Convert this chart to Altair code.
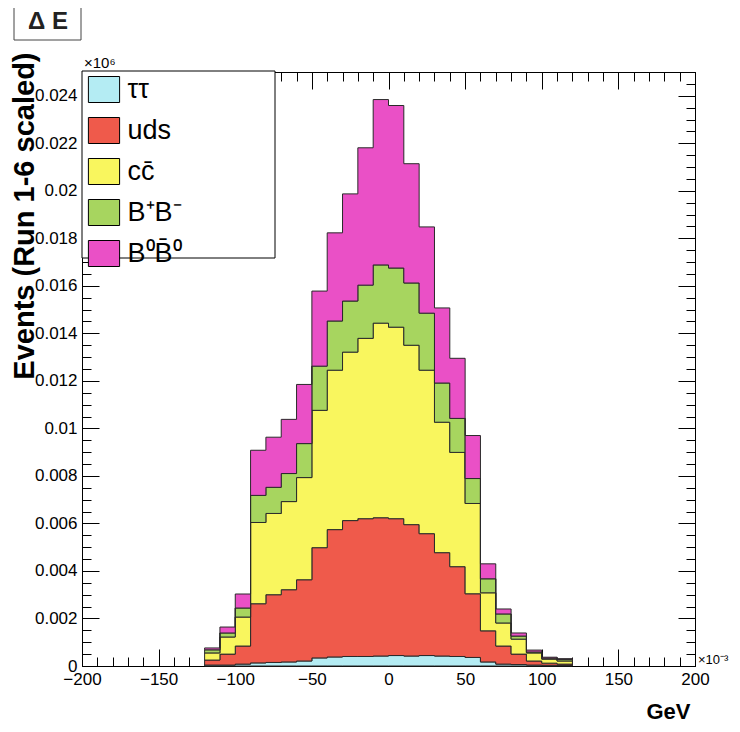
import altair as alt
import pandas as pd

FONT = "Liberation Sans"

# ---- data (bin lower edges in 1e-3 GeV, contents per component) ----
bin_lows = [-120, -110, -100, -90, -80, -70, -60, -50, -40, -30, -20, -10,
            0, 10, 20, 30, 40, 50, 60, 70, 80, 90, 100, 110]
bin_width = 10

tautau = [0.00004, 0.00004, 0.00008, 0.00013, 0.00015, 0.00017, 0.00021, 0.00034,
          0.00038, 0.00040, 0.00040, 0.00042, 0.00044, 0.00042, 0.00044, 0.00042,
          0.00040, 0.00036, 0.00017, 0.00008, 0.00006, 0.00004, 0.00003, 0.00002]
uds = [0.00021, 0.00046, 0.00076, 0.00249, 0.00285, 0.00304, 0.00342, 0.00464,
       0.00536, 0.00572, 0.00580, 0.00582, 0.00576, 0.00553, 0.00513, 0.00435,
       0.00378, 0.00268, 0.00131, 0.00076, 0.00044, 0.00017, 0.00009, 0.00006]
ccbar = [0.00030, 0.00072, 0.00122, 0.00342, 0.00342, 0.00371, 0.00430, 0.00578,
         0.00671, 0.00709, 0.00759, 0.00819, 0.00806, 0.00755, 0.00688, 0.00549,
         0.00481, 0.00380, 0.00160, 0.00097, 0.00063, 0.00034, 0.00017, 0.00013]
bpbm = [0.00013, 0.00017, 0.00038, 0.00114, 0.00110, 0.00118, 0.00143, 0.00186,
        0.00207, 0.00215, 0.00224, 0.00245, 0.00249, 0.00262, 0.00240, 0.00165,
        0.00143, 0.00105, 0.00059, 0.00038, 0.00013, 0.00004, 0.00004, 0.00006]
b0b0 = [0.00008, 0.00025, 0.00059, 0.00190, 0.00211, 0.00228, 0.00249, 0.00316,
        0.00371, 0.00451, 0.00578, 0.00696, 0.00684, 0.00502, 0.00363, 0.00316,
        0.00253, 0.00181, 0.00063, 0.00021, 0.00013, 0.00008, 0.00004, 0.00004]

components = ["ττ", "uds", "cc\u0304", "B\u207aB\u207b", "B\u2070B\u0304\u2070"]
series = [tautau, uds, ccbar, bpbm, b0b0]
colors = ["#b4ecf3", "#ef5a4b", "#f9f65e", "#a7d55f", "#ea50c6"]

x_major = [-200, -150, -100, -50, 0, 50, 100, 150, 200]
x_minor = list(range(-200, 201, 10))
y_major = [0, 0.002, 0.004, 0.006, 0.008, 0.010, 0.012, 0.014, 0.016, 0.018,
           0.020, 0.022, 0.024]
y_minor = [round(0.0005 * i, 4) for i in range(51)]

W, H = 613, 594
X_DOMAIN = [-200, 200]
Y_DOMAIN = [0, 0.025]

# ---- build stacked step table ----
rows = []
base = [0.0] * len(bin_lows)
edges = bin_lows + [bin_lows[-1] + bin_width]
for k, (name, vals) in enumerate(zip(components, series)):
    tops = [b + v for b, v in zip(base, vals)]
    for i, e in enumerate(edges):
        j = min(i, len(vals) - 1)
        rows.append({"comp": name, "order": k, "x": e,
                     "ybot": base[j], "ytop": tops[j]})
    base = tops
df = pd.DataFrame(rows)

xs = alt.Scale(domain=X_DOMAIN, nice=False, zero=False)
ys = alt.Scale(domain=Y_DOMAIN, nice=False, zero=False)

area = alt.Chart(df).mark_area(
    interpolate="step-after", stroke="#2a2a2a", strokeWidth=1, opacity=1
).encode(
    x=alt.X("x:Q", scale=xs, axis=alt.Axis(
        orient="bottom", values=x_major, ticks=False, tickSize=0, domain=False,
        labelFontSize=17, labelPadding=5, labelFlush=False, labelFont=FONT,
        labelColor="black", grid=False,
        title="GeV", titleFont=FONT, titleFontSize=22, titleFontWeight="bold",
        titleX=608, titleY=52, titleAlign="right", titleBaseline="alphabetic",
        titleAnchor="end", titleColor="black")),
    y=alt.Y("ytop:Q", scale=ys, stack=None, axis=alt.Axis(
        orient="left", values=y_major, format=".3~f", ticks=False, tickSize=0,
        domain=False, labelFontSize=17, labelPadding=5, labelFont=FONT,
        labelColor="black", grid=False, labelFlush=False,
        title="Events (Run 1-6 scaled)", titleFont=FONT, titleFontSize=29,
        titleFontWeight="bold", titleAngle=270, titleX=-49, titleY=-20,
        titleAlign="right", titleBaseline="alphabetic", titleColor="black")),
    y2="ybot:Q",
    color=alt.Color("comp:N", scale=alt.Scale(domain=components, range=colors),
                    legend=alt.Legend(
                        orient="none", legendX=8.5, legendY=4, title=None,
                        symbolType="M-1.2,-1H1.2V1H-1.2Z", symbolSize=676,
                        symbolStrokeColor="black", symbolStrokeWidth=1,
                        symbolOpacity=1, labelFontSize=27, labelFont=FONT,
                        labelColor="black", labelOffset=10, rowPadding=10,
                        padding=0, zindex=1)),
)


def tick_layer(x_orient, y_orient, xv, yv, size):
    return alt.Chart(df).mark_point(opacity=0, size=0).encode(
        x=alt.X("x:Q", scale=xs, axis=alt.Axis(
            orient=x_orient, offset=-H, values=xv, tickSize=size, labels=False,
            domain=False, title=None, grid=False, tickColor="black", tickWidth=1)),
        y=alt.Y("ytop:Q", scale=ys, axis=alt.Axis(
            orient=y_orient, offset=-W, values=yv, tickSize=size, labels=False,
            domain=False, title=None, grid=False, tickColor="black", tickWidth=1)),
    )


ticks = [
    tick_layer("top", "right", x_major, y_major, 17),
    tick_layer("top", "right", x_minor, y_minor, 9),
    tick_layer("bottom", "left", x_major, y_major, 17),
    tick_layer("bottom", "left", x_minor, y_minor, 9),
]

one = pd.DataFrame({"k": [0]})
legend_box = alt.Chart(one).mark_rect(fill="white", stroke="black", strokeWidth=1).encode(
    x=alt.value(0), x2=alt.value(193), y=alt.value(-1), y2=alt.value(186))
title_box = alt.Chart(one).mark_rect(fill="white", stroke="#444", strokeWidth=1).encode(
    x=alt.value(-68), x2=alt.value(-1), y=alt.value(-70), y2=alt.value(-32))
title_txt = alt.Chart(one).mark_text(
    text="Δ E", font=FONT, fontSize=24, fontWeight="bold", align="center",
    baseline="middle", color="#222").encode(x=alt.value(-34), y=alt.value(-50))
exp_y = alt.Chart(one).mark_text(
    text="×10⁶", font=FONT, fontSize=15, align="left", baseline="alphabetic",
    color="black").encode(x=alt.value(2), y=alt.value(-4))
exp_x = alt.Chart(one).mark_text(
    text="×10⁻³", font=FONT, fontSize=13, align="left", baseline="alphabetic",
    color="black").encode(x=alt.value(616), y=alt.value(592))

chart = alt.layer(area, *ticks, legend_box, title_box, title_txt, exp_y, exp_x).resolve_axis(
    x="independent", y="independent"
).properties(
    width=W, height=H,
    padding={"left": 74, "top": 64, "right": 36, "bottom": 58},
    autosize=alt.AutoSizeParams(type="none"),
    background="white",
).configure(font=FONT).configure_view(stroke="black", strokeWidth=1)

chart.save("out.html", embed_options={"renderer": "svg", "actions": False})
